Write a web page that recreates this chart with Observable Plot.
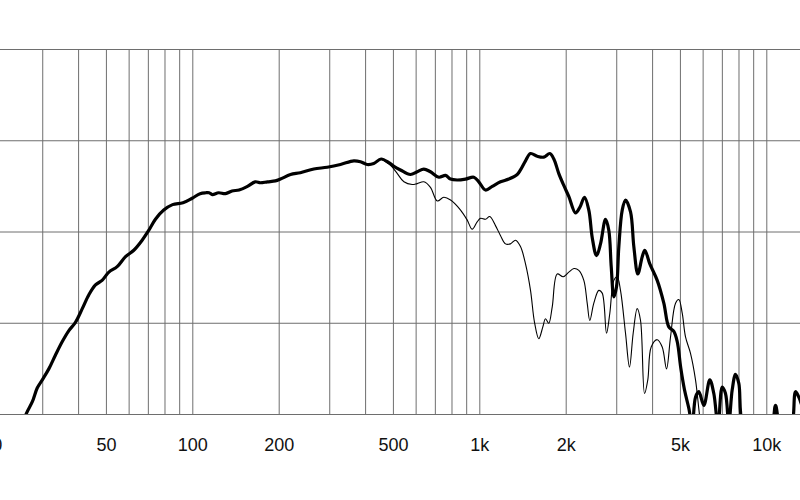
<!DOCTYPE html>
<html><head><meta charset="utf-8">
<script src="https://cdn.jsdelivr.net/npm/d3@7"></script>
<script src="https://cdn.jsdelivr.net/npm/@observablehq/plot@0.6"></script>
<style>body{margin:0;background:#fff;overflow:hidden}</style>
</head><body><div id="chart"></div>
<script>
// Frequency response (Hz, dB SPL)
const thickFreq = [25.1,26.3,27.6,28.7,29.9,31.5,33.2,35.1,37.0,39.0,41.2,43.4,45.8,48.3,51.0,54.5,58.3,62.3,66.6,70.3,74.1,79.2,85.0,92.4,99.5,106,111,114,117,123,130,137,145,155,165,172,182,194,202,219,237,264,294,327,364,384,405,427,453,482,502,529,573,605,638,673,720,760,791,834,892,953,992,1047,1105,1181,1262,1350,1386,1443,1502,1585,1671,1754,1811,1885,1962,2042,2155,2231,2316,2398,2464,2551,2634,2742,2815,2870,2931,2995,3051,3135,3219,3351,3441,3553,3681,3758,3912,4151,4377,4556,4743,4873,5015,5167,5348,5497,5644,5796,6033,6330,6537,6761,6992,7179,7371,7576,7780,7989,8264,9206,10385,10723,11073,11620,12240,12589,12927,13320,14200];
const thickDb = [58.3,60.1,61.4,62.9,63.8,65.0,66.5,68.0,69.2,70.1,71.6,73.1,74.2,74.7,75.6,76.2,77.3,78.0,79.1,80.2,81.4,82.4,83.0,83.2,83.7,84.2,84.3,84.3,84.1,84.3,84.2,84.5,84.6,85.0,85.5,85.4,85.5,85.6,85.8,86.3,86.5,86.9,87.1,87.4,87.8,87.7,87.4,87.5,88.0,87.6,87.2,86.8,86.3,86.6,86.9,86.6,86.0,86.2,85.8,85.7,85.8,86.0,85.5,84.6,85.0,85.5,85.8,86.3,86.8,87.8,88.6,88.3,88.2,88.6,88.0,86.4,85.1,83.9,82.1,82.7,83.8,82.4,79.4,77.4,78.7,81.4,80.2,76.2,72.9,74.0,78.4,82.4,83.5,82.2,78.4,75.4,77.3,78.0,76.5,74.7,72.2,69.6,69.1,68.0,65.1,62.7,60.7,58.8,61.9,62.5,61.0,63.8,62.3,58.8,63.0,62.3,59.0,62.7,64.4,63.4,58.8,57.2,58.8,61.0,58.8,57.7,58.8,62.5,61.9,60.8,58.8];
const thinFreq = [453,489,516,544,581,605,638,673,711,749,791,857,904,941,979,1006,1047,1083,1134,1181,1229,1279,1332,1386,1443,1502,1551,1605,1658,1694,1739,1788,1861,1952,2042,2129,2213,2304,2367,2417,2496,2598,2670,2764,2838,2931,3011,3092,3219,3323,3423,3535,3631,3750,3849,3955,4151,4321,4473,4619,4808,4937,5073,5209,5422,5644,5843,6018];
const thinDb = [88.0,87.3,86.4,85.5,85.2,85.3,85.5,84.9,83.4,83.8,83.5,82.4,81.3,80.3,81.1,81.5,81.4,81.7,80.7,79.6,78.7,78.7,79.1,78.4,76.5,73.6,70.1,68.3,69.6,70.5,70.0,71.8,75.4,75.1,75.6,76.0,75.8,74.7,72.2,70.3,72.2,73.6,73.3,68.9,71.1,74.7,75.1,73.6,68.9,65.2,68.9,71.6,70.3,62.3,63.8,67.4,68.2,67.4,65.0,68.5,72.2,72.6,71.1,68.5,66.7,63.8,59.7,57.2];

const gridFreqs = [20,30,40,50,60,70,80,90,100,200,300,400,500,600,700,800,900,1000,2000,3000,4000,5000,6000,7000,8000,9000,10000,20000];
const levels = [60,70,80,90,100];
const tickValues = [20,50,100,200,500,1000,2000,5000,10000];
const tickLabels = ["20","50","100","200","500","1k","2k","5k","10k"];

const thick = thickFreq.map((f, i) => ({f, db: thickDb[i]}));
const thin = thinFreq.map((f, i) => ({f, db: thinDb[i]}));

const chart = Plot.plot({
  width: 800,
  height: 500,
  marginTop: 49,
  marginBottom: 86,
  marginLeft: 0,
  marginRight: 0,
  style: {fontFamily: "'Liberation Sans', Arial, sans-serif", background: "#fff"},
  x: {type: "log", domain: [20, 20000], range: [-8.3, 852.7], axis: null},
  y: {domain: [60, 100], axis: null},
  marks: [
    Plot.ruleY(levels, {stroke: "#6e6e6e", strokeWidth: 1}),
    Plot.ruleX(gridFreqs, {stroke: "#6e6e6e", strokeWidth: 1}),
    Plot.line(thin, {x: "f", y: "db", stroke: "#000", strokeWidth: 1.1, curve: "catmull-rom", clip: true}),
    Plot.line(thick, {x: "f", y: "db", stroke: "#000", strokeWidth: 3.2, curve: "catmull-rom", clip: true, strokeLinejoin: "round"}),
    Plot.text(tickValues, {x: d => d, frameAnchor: "bottom", dy: 31, lineAnchor: "middle",
      text: (d, i) => tickLabels[i], fontSize: 18, fill: "#111"})
  ]
});
document.getElementById("chart").appendChild(chart);
</script>
</body></html>
